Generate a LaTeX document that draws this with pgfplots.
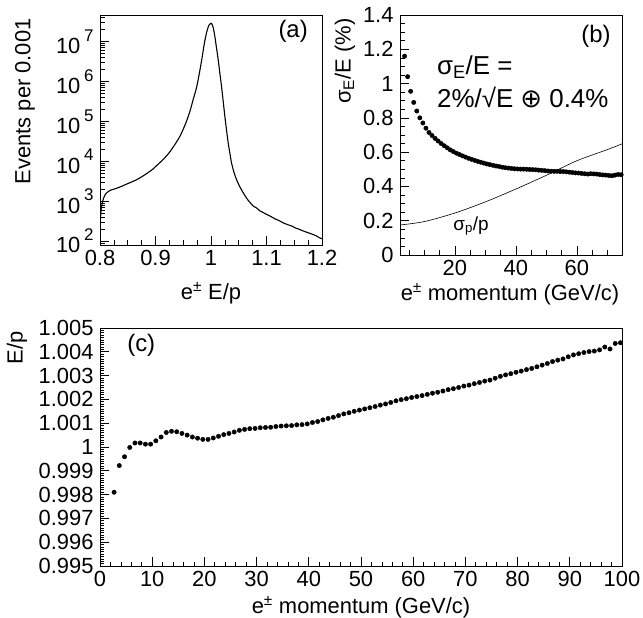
\documentclass[border=0pt]{standalone}
\usepackage{fontspec}
\setmainfont{Liberation Sans}
\newfontfamily\dejavu{DejaVu Sans}
\usepackage{pgfplots}
\pgfplotsset{compat=1.18}
\pgfplotsset{
  rootax/.style={
    scale only axis, anchor=south west,
    axis line style={line width=0.9bp},
    every tick/.style={black, line width=0.7bp},
    tick align=inside, tick pos=left,
    major tick length=9bp, minor tick length=4.5bp,
    tick label style={font=\fontsize{22}{24}\selectfont},
    label style={font=\fontsize{22}{24}\selectfont},
    /pgf/number format/assume math mode=true,
    xticklabel style={yshift=-2bp},
    yticklabel style={xshift=-3bp},
  },
}
\tikzset{ann/.style={font=\fontsize{24}{26}\selectfont, inner sep=0pt}}
\newcommand{\tenp}[1]{10\,\raisebox{0.55em}{\fontsize{17}{17}\selectfont #1}}
\begin{document}
\begin{tikzpicture}
\useasboundingbox (0,0) rectangle (643bp,618bp);

% ---------------- (a) ----------------
\begin{axis}[rootax,
  at={(100bp,373bp)}, width=222bp, height=230bp,
  xmin=0.8, xmax=1.2, ymode=log, ymin=80, ymax=4.6e7,
  xtick={0.8,0.9,1,1.1,1.2}, xticklabels={0.8,0.9,1,1.1,1.2},
  minor xtick={0.825,0.85,0.875,0.925,0.95,0.975,1.025,1.05,1.075,1.125,1.15,1.175},
  ytick={1e2,1e3,1e4,1e5,1e6,1e7},
  yticklabels={\tenp{2},\tenp{3},\tenp{4},\tenp{5},\tenp{6},\tenp{7}},
  minor ytick={90,200,300,400,500,600,700,800,900,2000,3000,4000,5000,6000,7000,8000,9000,2e4,3e4,4e4,5e4,6e4,7e4,8e4,9e4,2e5,3e5,4e5,5e5,6e5,7e5,8e5,9e5,2e6,3e6,4e6,5e6,6e6,7e6,8e6,9e6,2e7,3e7,4e7},
  xlabel={e\textsuperscript{±} E/p},
  xlabel style={at={(axis description cs:0.5,-0.148)}, anchor=north},
  ylabel={Events per 0.001},
  ylabel style={at={(axis description cs:-0.338,1)}, anchor=east},
]
\addplot[black, line width=1.1bp, smooth, tension=0.4] coordinates {
(0.8005,300) (0.802,600) (0.804,900) (0.807,1250) (0.81,1500) (0.815,1750)
(0.82,1905) (0.827,2042) (0.835,2239) (0.845,2570) (0.855,2951) (0.865,3388)
(0.875,4074) (0.885,5012) (0.895,6310) (0.905,8511) (0.915,11482) (0.925,16596)
(0.935,26303) (0.945,44668) (0.955,93325) (0.962,177828) (0.968,354813)
(0.974,707946) (0.979,1.585e6) (0.984,3.981e6) (0.988,8.913e6) (0.992,1.66e7)
(0.996,2.512e7) (0.999,2.818e7) (1.001,2.818e7) (1.004,2.239e7) (1.007,1.318e7)
(1.010,6.761e6) (1.013,3.467e6) (1.016,1.585e6) (1.019,741310) (1.022,316228)
(1.025,131826) (1.028,60256) (1.031,28840) (1.034,15849) (1.037,9120)
(1.041,5495) (1.046,3467) (1.052,2291) (1.058,1622) (1.066,1096) (1.076,759)
(1.082,680) (1.088,575) (1.094,520) (1.1,468) (1.107,420) (1.115,363) (1.122,330)
(1.13,288) (1.137,262) (1.145,240) (1.152,214) (1.16,195) (1.167,178) (1.175,162)
(1.182,150) (1.19,135) (1.195,122) (1.2,115)
};
\node[ann] at (axis description cs:0.87,0.93) {(a)};
\end{axis}

% ---------------- (b) ----------------
\begin{axis}[rootax,
  at={(400bp,363bp)}, width=222.7bp, height=240bp,
  xmin=2, xmax=75, ymin=0, ymax=1.4,
  xtick={20,40,60}, xticklabels={20,40,60},
  minor xtick={5,10,15,25,30,35,45,50,55,65,70,75},
  ytick={0,0.2,0.4,0.6,0.8,1,1.2,1.4},
  yticklabels={0,0.2,0.4,0.6,0.8,1,1.2,1.4},
  minor y tick num=3,
  xlabel={e\textsuperscript{±} momentum (GeV/c)},
  xlabel style={at={(axis description cs:1,-0.104)}, anchor=north east},
  ylabel={σ\textsubscript{E}/E (\%)},
  ylabel style={at={(axis description cs:-0.247,1)}, anchor=east},
]
\addplot[black, only marks, mark=*, mark size=2.2bp] coordinates {
(3.5,1.16) (4.5,1.04) (5.5,0.955) (6.5,0.89) (7.5,0.84) (8.5,0.80) (9.5,0.77)
(10.5,0.74) (11.5,0.715) (12.5,0.697) (13.5,0.68) (14.5,0.665) (15.5,0.65)
(16.5,0.637) (17.5,0.625) (18.5,0.613) (19.5,0.603) (20.5,0.594) (21.5,0.586)
(22.5,0.578) (23.5,0.571) (24.5,0.564) (25.5,0.558) (26.5,0.552) (27.5,0.546)
(28.5,0.541) (29.5,0.536) (30.5,0.531) (31.5,0.527) (32.5,0.523) (33.5,0.519)
(34.5,0.516) (35.5,0.512) (36.5,0.509) (37.5,0.507) (38.5,0.505) (39.5,0.503)
(40.5,0.502) (41.5,0.501) (42.5,0.501) (43.5,0.500) (44.5,0.499) (45.5,0.498)
(46.5,0.497) (47.5,0.495) (48.5,0.494) (49.5,0.492) (50.5,0.490) (51.5,0.489)
(52.5,0.488) (53.5,0.488) (54.5,0.487) (55.5,0.487) (56.5,0.485) (57.5,0.483)
(58.5,0.481) (59.5,0.479) (60.5,0.478) (61.5,0.476) (62.5,0.474) (63.5,0.472)
(64.5,0.474) (65.5,0.473) (66.5,0.472) (67.5,0.469) (68.5,0.467) (69.5,0.466)
(70.5,0.464) (71.5,0.462) (72.5,0.466) (73.5,0.470) (74.5,0.468)
};
\addplot[black, line width=0.6bp, smooth] coordinates {
(2,0.175) (10,0.195) (20,0.245) (30,0.31) (40,0.385) (50,0.465) (60,0.55) (70,0.615) (75,0.65)
};
\node[ann] at (axis description cs:0.88,0.91) {(b)};
\node[ann, font=\fontsize{26}{28}\selectfont, anchor=west] at (axis description cs:0.166,0.783) {σ\textsubscript{E}/E =};
\node[ann, font=\fontsize{26}{28}\selectfont, anchor=west] at (axis description cs:0.166,0.658) {2\%/√E {\dejavu ⊕} 0.4\%};
\node[ann, font=\fontsize{19}{21}\selectfont] at (axis description cs:0.319,0.121) {σ\textsubscript{p}/p};
\end{axis}

% ---------------- (c) ----------------
\begin{axis}[rootax,
  at={(100bp,52bp)}, width=522bp, height=238bp,
  xmin=0, xmax=100, ymin=0.995, ymax=1.005,
  xtick={0,10,20,30,40,50,60,70,80,90,100},
  xticklabels={0,10,20,30,40,50,60,70,80,90,100},
  minor x tick num=4,
  ytick={0.995,0.996,0.997,0.998,0.999,1,1.001,1.002,1.003,1.004,1.005},
  yticklabels={0.995,0.996,0.997,0.998,0.999,1,1.001,1.002,1.003,1.004,1.005},
  minor y tick num=9,
  xlabel={e\textsuperscript{±} momentum (GeV/c)},
  xlabel style={at={(axis description cs:0.5,-0.113)}, anchor=north},
  ylabel={E/p},
  ylabel style={at={(axis description cs:-0.159,1)}, anchor=east},
]
\addplot[black, only marks, mark=*, mark size=2.2bp] coordinates {
(2.7,0.99810) (3.7,0.99922) (4.7,0.99959) (5.7,0.99998) (6.7,1.00017) (7.7,1.00017)
(8.7,1.00012) (9.7,1.00012) (10.7,1.00026) (11.7,1.00042) (12.7,1.00061) (13.7,1.00066)
(14.7,1.00064) (15.7,1.00057) (16.7,1.00050) (17.7,1.00042) (18.7,1.00037) (19.7,1.00032)
(20.7,1.00032) (21.7,1.00038) (22.7,1.00045) (23.7,1.00052) (24.7,1.00057) (25.7,1.00063)
(26.7,1.00070) (27.7,1.00074) (28.7,1.00077) (29.7,1.00078) (30.7,1.00081) (31.7,1.00082)
(32.7,1.00083) (33.7,1.00086) (34.7,1.00088) (35.7,1.00089) (36.7,1.00090) (37.7,1.00093)
(38.7,1.00094) (39.7,1.00097) (40.7,1.00103) (41.7,1.00107) (42.7,1.00114) (43.7,1.00120)
(44.7,1.00125) (45.7,1.00132) (46.7,1.00139) (47.7,1.00144) (48.7,1.00150) (49.7,1.00155)
(50.7,1.00160) (51.7,1.00165) (52.7,1.00170) (53.7,1.00176) (54.7,1.00181) (55.7,1.00187)
(56.7,1.00194) (57.7,1.00199) (58.7,1.00203) (59.7,1.00208) (60.7,1.00212) (61.7,1.00216)
(62.7,1.00221) (63.7,1.00226) (64.7,1.00230) (65.7,1.00235) (66.7,1.00241) (67.7,1.00245)
(68.7,1.00250) (69.7,1.00256) (70.7,1.00260) (71.7,1.00266) (72.7,1.00271) (73.7,1.00277)
(74.7,1.00281) (75.7,1.00289) (76.7,1.00297) (77.7,1.00303) (78.7,1.00308) (79.7,1.00314)
(80.7,1.00319) (81.7,1.00325) (82.7,1.00330) (83.7,1.00337) (84.7,1.00344) (85.7,1.00351)
(86.7,1.00359) (87.7,1.00365) (88.7,1.00370) (89.7,1.00379) (90.7,1.00387) (91.7,1.00392)
(92.7,1.00397) (93.7,1.00401) (94.7,1.00403) (95.7,1.00408) (96.7,1.00420) (97.7,1.00412)
(98.7,1.00435) (99.7,1.00438)
};
\node[ann] at (axis description cs:0.079,0.929) {(c)};
\end{axis}
\end{tikzpicture}
\end{document}
